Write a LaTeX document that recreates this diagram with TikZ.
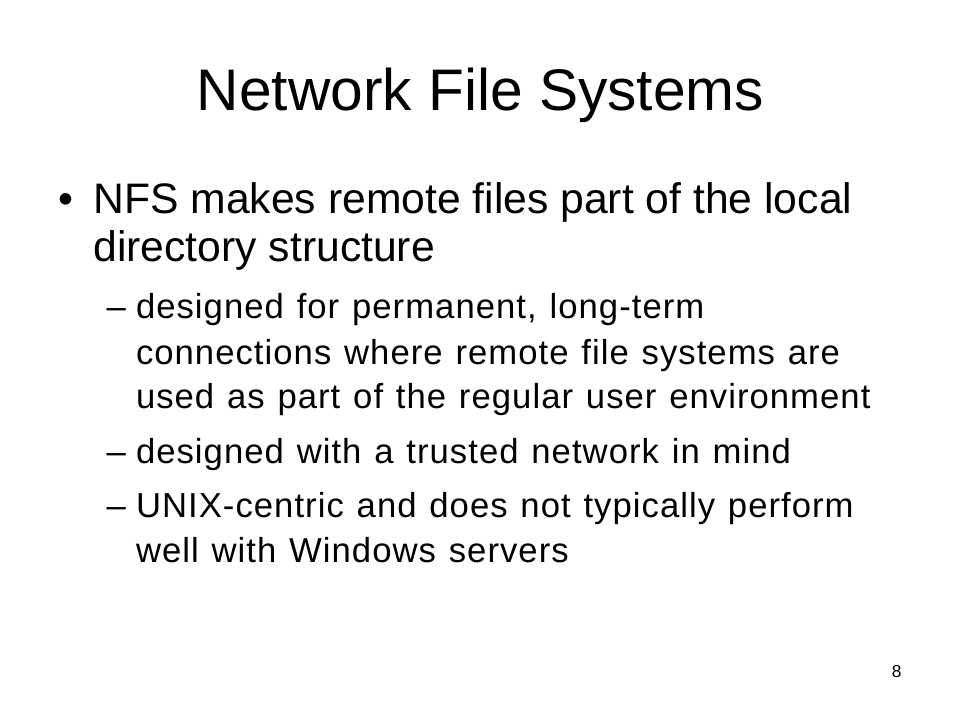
\documentclass[tikz,border=0pt]{standalone}
\usepackage{fontspec}
\setmainfont{Liberation Sans}
\newfontfamily\lvtwo[LetterSpace=3,WordSpace=1.2]{Liberation Sans}
\begin{document}
\begin{tikzpicture}[x=0.75pt,y=-0.75pt,
  every node/.style={inner sep=0pt,outer sep=0pt},
  titletext/.style={anchor=base,font=\fontsize{44}{50}\selectfont},
  lvonetext/.style={anchor=base west,font=\fontsize{32}{38}\selectfont},
  lvtwotext/.style={anchor=base west,font=\lvtwo\fontsize{26}{31}\selectfont},
  dashmark/.style={anchor=base west,font=\fontsize{26}{31}\selectfont},
  pagenum/.style={anchor=base,font=\fontsize{13}{15}\selectfont}]
\useasboundingbox[fill=white] (0,0) rectangle (960,720);
\node[titletext] (title) at (480.5,110.7) {Network File Systems};
\node[lvonetext,anchor=base] (b1) at (65.5,213.3) {•};
\node[lvonetext] (l1a) at (93.5,213.3) {NFS makes remote files part of the local};
\node[lvonetext] (l1b) at (93.5,262) {directory structure};
\node[dashmark] (d1) at (106.7,319) {–};
\node[lvtwotext] (l2a) at (136,319) {designed for permanent, long-term};
\node[lvtwotext] (l2b) at (136,364.5) {connections where remote file systems are};
\node[lvtwotext] (l2c) at (136,408.5) {used as part of the regular user environment};
\node[dashmark] (d2) at (106.7,463.5) {–};
\node[lvtwotext] (l2d) at (136,463.5) {designed with a trusted network in mind};
\node[dashmark] (d3) at (106.7,517) {–};
\node[lvtwotext] (l2e) at (136,517) {UNIX-centric and does not typically perform};
\node[lvtwotext] (l2f) at (136,562) {well with Windows servers};
\node[pagenum] (pg) at (896.7,677.3) {8};
\end{tikzpicture}
\end{document}
